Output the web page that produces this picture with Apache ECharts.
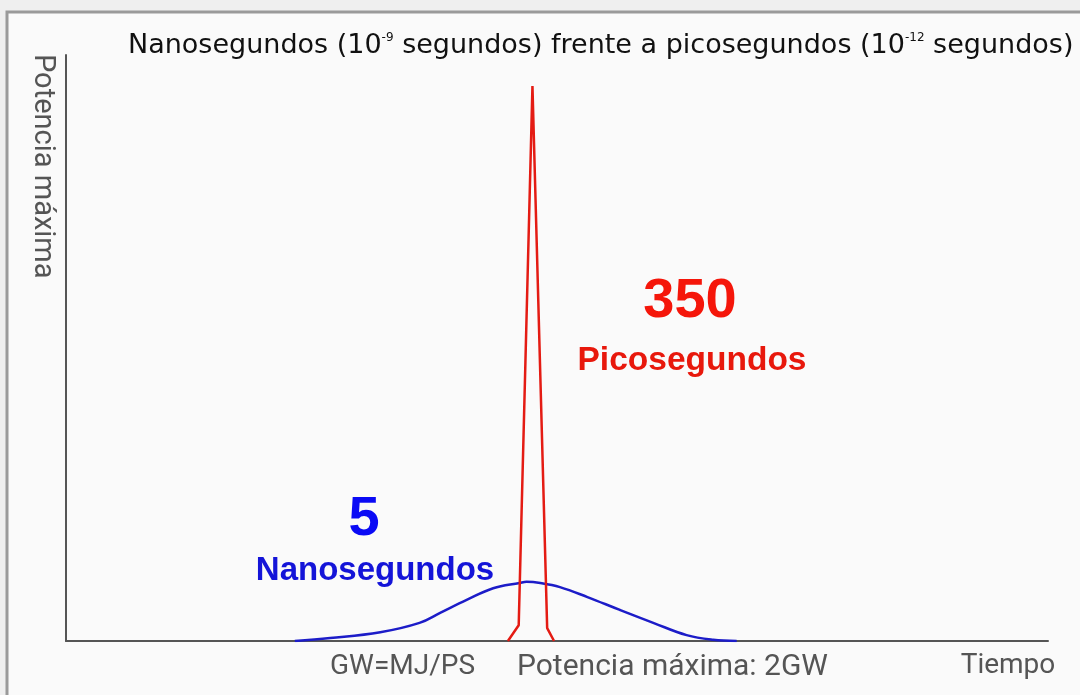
<!DOCTYPE html>
<html>
<head>
<meta charset="utf-8">
<script src="https://cdn.jsdelivr.net/npm/echarts@6/dist/echarts.min.js"></script>
<style>
  html, body { margin: 0; padding: 0; background: #efefef; }
  #chart { width: 1080px; height: 695px; }
</style>
</head>
<body>
<div id="chart"></div>
<script>
// tiempo (0..100) y potencia (0..100)
const nanoTime = [23.3, 26.9, 32.0, 36.0, 38.1, 40.8, 43.5, 46.2, 46.9, 48.3, 50.3, 53.1, 56.4, 59.8, 63.2, 65.9, 68.3];
const nanoPower = [0, 0.5, 1.5, 3.1, 4.8, 7.0, 9.0, 9.9, 10.1, 9.9, 9.2, 7.5, 5.3, 3.1, 1.0, 0.2, 0];

const picoTime = [45.0, 46.1, 47.5, 49.0, 49.7];
const picoPower = [0, 2.7, 94.7, 2.2, 0];

const titleText = 'Nanosegundos (10{sup|-9} segundos) frente a picosegundos (10{sup|-12} segundos)';
const yName = 'Potencia máxima';
const xName = 'Tiempo';
const noteLeft = 'GW=MJ/PS';
const noteRight = 'Potencia máxima: 2GW';
const picoLabel = ['350', 'Picosegundos'];
const nanoLabel = ['5', 'Nanosegundos'];

const toPairs = (xs, ys) => xs.map((x, i) => [x, ys[i]]);

let myChart = echarts.init(document.getElementById('chart'));
myChart.setOption({
  backgroundColor: '#efefef',
  animation: false,
  title: {
    text: titleText,
    left: 123,
    top: 27,
    textStyle: {
      fontFamily: 'DejaVu Sans',
      fontSize: 27,
      fontWeight: 'normal',
      color: '#111',
      rich: {
        sup: { fontSize: 12, verticalAlign: 'top', padding: [0, 0, 13, 0], color: '#111', fontFamily: 'DejaVu Sans' }
      }
    }
  },
  grid: { left: 66, right: 32, top: 55, bottom: 54 },
  xAxis: {
    type: 'value',
    min: 0,
    max: 100,
    axisLine: { lineStyle: { color: '#555', width: 2 } },
    axisTick: { show: false },
    axisLabel: { show: false },
    splitLine: { show: false }
  },
  yAxis: {
    type: 'value',
    min: 0,
    max: 100,
    axisLine: { show: true, lineStyle: { color: '#555', width: 2 } },
    axisTick: { show: false },
    axisLabel: { show: false },
    splitLine: { show: false }
  },
  graphic: [
    {
      type: 'rect', z: -10, silent: true,
      shape: { x: 7, y: 12, width: 1100, height: 700 },
      style: { fill: '#fafafa', stroke: '#9a9a9a', lineWidth: 3 }
    },
    {
      type: 'text', x: 42, y: 54, rotation: -Math.PI / 2,
      style: { text: yName, fontFamily: 'Roboto', fontSize: 29, fill: '#555', textAlign: 'left', textVerticalAlign: 'middle' }
    },
    {
      type: 'text', x: 1008, y: 666,
      style: { text: xName, fontFamily: 'Roboto', fontSize: 28, fill: '#555', textAlign: 'center', textVerticalAlign: 'middle' }
    },
    {
      type: 'text', x: 330, y: 667,
      style: { text: noteLeft, fontFamily: 'Roboto', fontSize: 28, fill: '#555', textAlign: 'left', textVerticalAlign: 'middle' }
    },
    {
      type: 'text', x: 517, y: 667,
      style: { text: noteRight, fontFamily: 'Roboto', fontSize: 30, fill: '#555', textAlign: 'left', textVerticalAlign: 'middle' }
    },
    {
      type: 'text', x: 690, y: 302,
      style: { text: picoLabel[0], fontFamily: 'Liberation Sans', fontWeight: 'bold', fontSize: 56, fill: '#f5160a', textAlign: 'center', textVerticalAlign: 'middle' }
    },
    {
      type: 'text', x: 692, y: 361,
      style: { text: picoLabel[1], fontFamily: 'Liberation Sans', fontWeight: 'bold', fontSize: 33.5, fill: '#e8180c', textAlign: 'center', textVerticalAlign: 'middle' }
    },
    {
      type: 'text', x: 364, y: 520,
      style: { text: nanoLabel[0], fontFamily: 'Liberation Sans', fontWeight: 'bold', fontSize: 56, fill: '#0a0af5', textAlign: 'center', textVerticalAlign: 'middle' }
    },
    {
      type: 'text', x: 375, y: 571,
      style: { text: nanoLabel[1], fontFamily: 'Liberation Sans', fontWeight: 'bold', fontSize: 33, fill: '#1414d8', textAlign: 'center', textVerticalAlign: 'middle' }
    }
  ],
  series: [
    {
      name: 'Nanosegundos',
      type: 'line',
      smooth: 0.4,
      showSymbol: false,
      lineStyle: { color: '#1c1cc8', width: 2.5 },
      data: toPairs(nanoTime, nanoPower),
      z: 3
    },
    {
      name: 'Picosegundos',
      type: 'line',
      showSymbol: false,
      lineStyle: { color: '#e41b13', width: 2.5 },
      data: toPairs(picoTime, picoPower),
      z: 4
    }
  ]
});
</script>
</body>
</html>
